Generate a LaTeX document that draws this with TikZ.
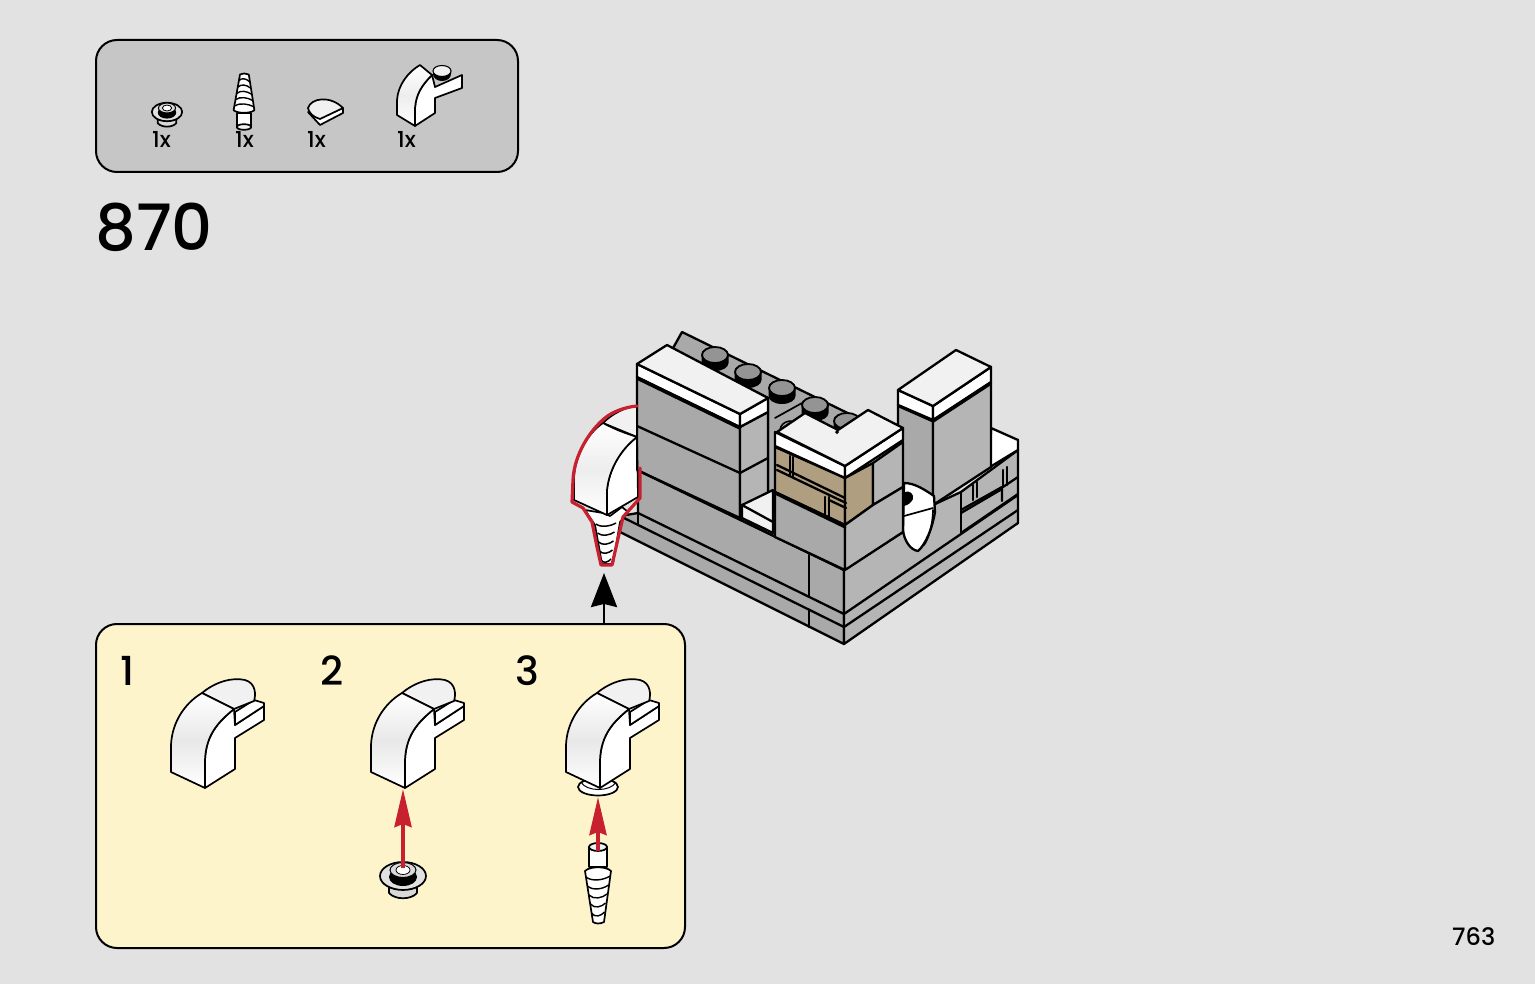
\documentclass[tikz,border=0pt]{standalone}
\usepackage{fontspec}
\newfontfamily\pop{Poppins Medium}
\usetikzlibrary{arrows.meta}
\definecolor{bgc}{HTML}{E2E2E2}
\definecolor{panelc}{HTML}{C6C6C6}
\definecolor{stepc}{HTML}{FEF4CC}
\definecolor{gl}{HTML}{A9A9A9}
\definecolor{gr}{HTML}{B5B5B5}
\definecolor{tan1}{HTML}{AF9E7F}
\definecolor{redc}{HTML}{C7202F}
\definecolor{wh}{HTML}{F1F1F1}
\tikzset{
 x=1pt,y=-1pt,
 ink/.style={draw=black,line width=2.3pt,line join=round,line cap=round},
 thin ink/.style={draw=black,line width=1.7pt,line join=round,line cap=round},
 gL/.style={ink,fill=gl},
 gR/.style={ink,fill=gr},
 whtop/.style={ink,fill=wh},
 whside/.style={ink,fill=white},
 tanf/.style={ink,fill=tan1},
 panelbox/.style={draw=black,line width=2pt,rounded corners=21pt},
 lab/.style={inner sep=0pt,anchor=base west,text=black},
 redarrow/.style={draw=redc,line width=4pt,-{Stealth[length=38pt,width=17pt,inset=3pt]}},
 blackarrow/.style={draw=black,line width=2.6pt,-{Stealth[length=34pt,width=26pt,inset=3pt]}},
 curvedbrick/.pic={
  \path[thin ink,fill=white] (235,725) -- (264,706) -- (264,720) -- (235,738) -- (235,769) -- (205,788) -- (205,760) .. controls (206,735) and (218,722) .. (234,709) -- cycle;
  \path[thin ink,fill=white] (235,712) -- (254,700) -- (264,703) -- (264,706) -- (235,725) -- cycle;
  \path[thin ink,fill=wh] (202,693) .. controls (215,682) and (232,677) .. (245,680) .. controls (256,683) and (256,695) .. (254,701) -- (234,709) -- cycle;
  \path[thin ink,top color=white,bottom color=white,middle color=black!9] (171,772) -- (171,745) .. controls (172,722) and (185,703) .. (202,693) -- (234,709) .. controls (218,722) and (206,735) .. (205,760) -- (205,788) -- cycle;
 },
 roundplate/.pic={
  \path[thin ink,fill=white!85!black] (-14,10) -- (-14,20) .. controls (-8,27) and (8,27) .. (14,20) -- (14,10) -- cycle;
  \path[thin ink,fill=white!88!black] (0,3) ellipse [x radius=23,y radius=14];
  \path[draw=black,line width=.8pt] (-20,10) .. controls (-10,19) and (10,19) .. (20,10);
  \path[fill=black] (0,4) ellipse [x radius=14,y radius=9];
  \path[fill=white!85!black,draw=black,line width=1pt] (0,-3) ellipse [x radius=13,y radius=7.5];
  \path[fill=white,draw=black,line width=.8pt] (0,-3) ellipse [x radius=7,y radius=4.5];
 },
 screwpart/.pic={
  \path[thin ink,fill=white] (-9,0) -- (-9,20) -- (9,20) -- (9,0) -- cycle;
  \path[thin ink,fill=wh] (0,0) ellipse [x radius=9,y radius=4];
  \path[thin ink,fill=white] (-13,24) -- (-5,75) .. controls (-2,77) and (2,77) .. (6,75) -- (13,24) .. controls (8,19) and (-8,19) .. (-13,24) -- cycle;
  \foreach \yy/\hw in {30/12,39/10.5,48/9,57/7.5,66/6.5}{
   \path[draw=black,line width=1.4pt] (-\hw,\yy) .. controls (-\hw/2,\yy+5) and (\hw/2,\yy+3) .. (\hw,\yy-1);
  }
 },
}
\newcommand{\studat}[2]{%
 \path[fill=black] (#1-13.5,#2) -- (#1-13.5,#2+8) arc[start angle=180,end angle=0,x radius=13.5,y radius=8] -- (#1+13.5,#2) -- cycle;
 \path[draw=black,line width=1.8pt,fill=black!42] (#1,#2) ellipse [x radius=13,y radius=8];}
\begin{document}
\begin{tikzpicture}
\useasboundingbox (0,0) rectangle (1535,984);
\path[fill=bgc] (0,0) rectangle (1535,984);

% ---- parts panel
\node[panelbox,fill=panelc,minimum width=422pt,minimum height=132pt,inner sep=0pt,anchor=north west] (parts) at (95,39) {};
\pic[scale=.66] at (167,110) {roundplate};
\pic[xscale=.8,yscale=-.7] at (244,127) {screwpart};
\path[thin ink,fill=white] (308,112) -- (320,125) -- (343,113) -- (343,108) -- (320,118) -- cycle;
\path[thin ink,fill=wh] (308,108) .. controls (311,98) and (330,95) .. (343,108) -- (320,119) .. controls (313,117) and (309,113) .. (308,108) -- cycle;
\path[thin ink,fill=white] (435,87) -- (462,75) -- (462,88) -- (435,98) -- (435,113) -- (415,126) -- (415,108) .. controls (416,94) and (422,85) .. (432,75) -- cycle;
\path[thin ink,top color=white,bottom color=white,middle color=black!7] (397,115) -- (397,100) .. controls (398,85) and (408,72) .. (420,65) -- (432,75) .. controls (422,85) and (416,94) .. (415,108) -- (415,126) -- cycle;
\path[fill=black] (433,71) -- (433,74) arc[start angle=180,end angle=0,x radius=9,y radius=7] -- (451,71) -- cycle;
\path[draw=black,line width=1.1pt,fill=wh] (442,71) ellipse [x radius=9,y radius=5.5];
\node[lab,font=\pop\fontsize{22}{24}\selectfont] (qa) at (152,148) {1x};
\node[lab,font=\pop\fontsize{22}{24}\selectfont] (qb) at (235,148) {1x};
\node[lab,font=\pop\fontsize{22}{24}\selectfont] (qc) at (307,148) {1x};
\node[lab,font=\pop\fontsize{22}{24}\selectfont] (qd) at (397,148) {1x};

\node[lab,font=\pop\fontsize{64}{70}\selectfont] (stepnum) at (95,251) {870};
\node[lab,font=\pop\fontsize{24}{28}\selectfont] (pagenum) at (1452,945) {763};

% ---- model: back plate and studs
\path[gL] (672,350) -- (682,332) -- (870,424) -- (838,432) -- (777,440) -- (777,500) -- (768,500) -- (768,398) -- cycle;
\path[thin ink] (775,418) -- (802,403);
\path[draw=black,line width=1.5pt,fill=black!35] (780,430) .. controls (781,420) and (795,418) .. (800,426);
\foreach \sx/\sy in {715/355,748/372,815/405,847/421}{\studat{\sx}{\sy}}

% ---- base
\path[gL] (620,516) -- (620,532) -- (844,644) -- (844,570) -- (638,470) -- (638,513) -- cycle;
\path[gR] (844,570) -- (903,532) -- (903,487) -- (933,497) -- (933,505) -- (961,492) -- (1018,450) -- (1018,523) -- (844,644) -- cycle;
\path[ink] (620,516) -- (844,627) -- (1018,510);
\path[ink] (638,513) -- (844,614) -- (1018,495);
\path[ink] (638,513) -- (638,525);
\path[ink] (809,555) -- (809,597) (809,611) -- (809,627);
\path[ink] (844,570) -- (844,644);
\path[ink,line width=2.8pt] (1018,440) -- (1018,523);

% ---- right bricks
\path[ink] (961,492) -- (961,532);
\path[ink] (961,510) -- (1002,487) -- (1002,501);
\path[ink] (961,513) -- (1002,489);
\path[ink] (973,485) -- (973,500) (977,482) -- (977,497);
\path[ink] (1003,470) -- (1003,487) (1007,467) -- (1007,485);
\path[ink] (1003,487) -- (1018,477);
\path[ink] (961,533) -- (1018,494);

% ---- corner white on right
\path[whside] (991,428) -- (1018,440) -- (1018,450) -- (990,467) -- cycle;

% ---- right tall block
\path[gL] (898,405) -- (933,420) -- (933,505) -- (898,482) -- cycle;
\path[gR] (933,420) -- (991,382) -- (991,467) -- (933,505) -- cycle;
\path[whside] (898,390) -- (933,406) -- (933,420) -- (898,405) -- cycle;
\path[whside] (933,406) -- (991,367) -- (991,382) -- (933,420) -- cycle;
\path[whtop] (898,390) -- (956,350) -- (991,367) -- (933,406) -- cycle;
\path[draw=black,line width=3.5pt] (933,421) -- (991,383);
\path[draw=black,line width=3pt] (899,406) -- (933,421);

% ---- bullet
\path[ink,fill=white] (904,483) .. controls (915,483) and (925,490) .. (934,496) -- (935,512) .. controls (932,530) and (925,545) .. (918,551) .. controls (910,550) and (904,540) .. (903,530) -- cycle;
\path[fill=black] (904,492) .. controls (910,490) and (914,494) .. (913,499) .. controls (911,503) and (908,505) .. (904,506) -- cycle;
\path[thin ink] (904,516) -- (933,508);
\path[thin ink] (933,510) .. controls (933,525) and (928,540) .. (924,545);

% ---- left tall wall
\path[gL] (637,377) -- (740,427) -- (740,518) -- (637,470) -- cycle;
\path[gR] (740,427) -- (768,412) -- (768,503) -- (740,518) -- cycle;
\path[ink] (637,426) -- (740,473) -- (768,458);
\path[whside] (637,364) -- (740,414) -- (740,427) -- (637,377) -- cycle;
\path[whside] (740,414) -- (768,398) -- (768,412) -- (740,427) -- cycle;
\path[whtop] (637,364) -- (667,345) -- (768,398) -- (740,414) -- cycle;
\path[draw=black,line width=3.5pt] (637,378) -- (740,428);
\studat{782}{388}

% ---- white pit
\path[whtop] (742,505) -- (773,490) -- (773,533) -- (742,518) -- cycle;
\path[ink] (742,505) -- (773,522);
\path[ink] (637,470) -- (844,570);

% ---- L block
\path[tanf] (775,447) -- (845,478) -- (845,525) -- (775,492) -- cycle;
\path[tanf] (845,478) -- (873,463) -- (873,505) -- (845,525) -- cycle;
\path[gR] (873,463) -- (903,442) -- (903,487) -- (873,505) -- cycle;
\path[gL] (775,492) -- (845,525) -- (845,570) -- (775,537) -- cycle;
\path[gR] (845,525) -- (873,505) -- (903,487) -- (903,532) -- (845,570) -- cycle;
% tan brick lines
\path[ink] (777,465) -- (845,498);
\path[ink] (777,470) -- (846,503);
\path[ink] (790,456) -- (790,475) (793,457) -- (793,477);
\path[ink] (825,497) -- (825,516) (829,497) -- (829,518);
\path[ink] (829,500) -- (846,508);
\path[ink,line width=3pt] (775,493) -- (845,527);
% top of L
\path[whside] (775,432) -- (845,466) -- (845,478) -- (775,446) -- cycle;
\path[whside] (845,466) -- (903,428) -- (903,440) -- (845,478) -- cycle;
\path[whtop] (777,432) -- (805,413) -- (838,430) -- (868,410) -- (903,428) -- (845,466) -- cycle;
\path[draw=black,line width=3pt] (836,431) -- (838,433);

% ---- new curved brick with red outline
\path[thin ink,fill=white] (603,513) -- (610,516) -- (622,507) -- (628,512) -- (620,522) -- (613,564) -- (602,564) -- (595,525) -- (585,510) -- cycle;
\foreach \yy/\hw in {524/10,533/8.5,542/7.5,551/6.5,560/5}{
  \path[draw=black,line width=1.5pt] (606-\hw,\yy) .. controls (606-\hw/2,\yy+4) and (606+\hw/2,\yy+2) .. (606+\hw,\yy-1);
}
\path[thin ink,fill=wh] (603,423) .. controls (612,414) and (625,407) .. (637,406) -- (637,437) -- cycle;
\path[thin ink,fill=white] (607,515) -- (607,490) .. controls (609,470) and (620,450) .. (637,437) -- (638,497) -- cycle;
\path[thin ink,top color=white,bottom color=white,middle color=black!7] (574,500) -- (574,478) .. controls (575,455) and (588,433) .. (603,423) .. controls (616,430) and (625,433) .. (637,437) .. controls (620,450) and (609,470) .. (607,490) -- (607,515) -- cycle;
\path[ink] (637,364) -- (637,470);
\path[draw=redc,line width=3.2pt,line join=round,line cap=round] (637,406) .. controls (625,407) and (612,412) .. (605,418) .. controls (590,430) and (574,455) .. (573,480) -- (572,502) -- (583,508) -- (592,522) -- (597,547) -- (601,565) -- (612,565) -- (617,543) -- (623,517) -- (640,498) -- (640,468);

% ---- arrow from step box to the model
\coordinate (boxtop) at (604,624);
\coordinate (arrowtip) at (604,573);
\draw[blackarrow] (boxtop) -- (arrowtip);

% ---- step panel
\node[panelbox,fill=stepc,minimum width=589pt,minimum height=324pt,inner sep=0pt,anchor=north west] (stepbox) at (95,623) {};
\node[lab,font=\pop\fontsize{40}{42}\selectfont] (sa) at (120,685) {1};
\node[lab,font=\pop\fontsize{40}{42}\selectfont] (sb) at (320,685) {2};
\node[lab,font=\pop\fontsize{40}{42}\selectfont] (sc) at (515,685) {3};

\pic at (0,0) {curvedbrick};
\pic at (200,0) {curvedbrick};
\pic at (403,873) {roundplate};
\coordinate (rbase) at (403,868);
\coordinate (rtip) at (403,789);
\draw[redarrow] (rbase) -- (rtip);

% step 3: plate under brick
\path[thin ink,fill=white] (598,787) ellipse [x radius=20,y radius=8.5];
\path[draw=black,line width=1pt] (581,782) .. controls (586,792) and (611,792) .. (616,782);
\pic at (395,0) {curvedbrick};
\pic at (598,847) {screwpart};
\coordinate (sbase) at (598,851);
\coordinate (stip) at (598,797);
\draw[redarrow] (sbase) -- (stip);
\end{tikzpicture}
\end{document}
